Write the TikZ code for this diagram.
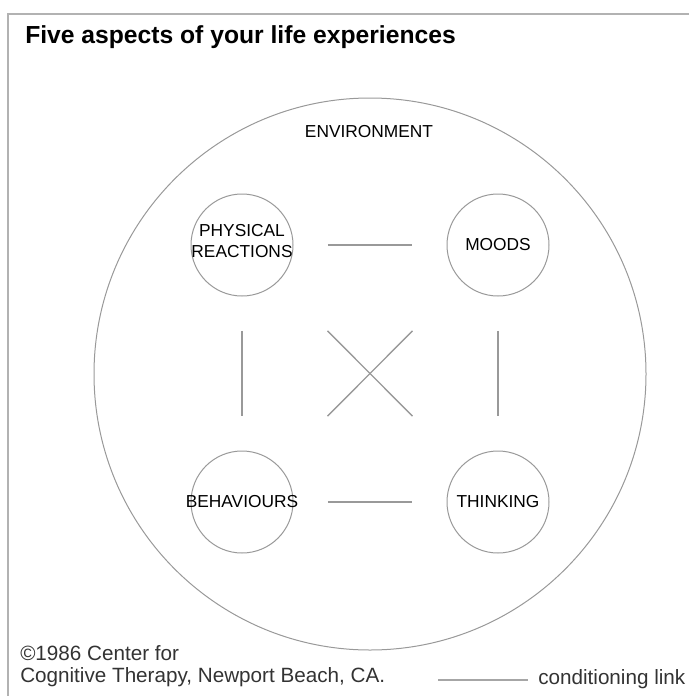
\documentclass[tikz,border=0pt]{standalone}
\usepackage{fontspec}
\setmainfont{Liberation Sans}

\begin{document}
\begin{tikzpicture}[x=0.75pt, y=-0.75pt,
	every node/.style={inner sep=0pt, font=\fontsize{13}{16}\selectfont},
	aspect/.style={draw=black!40, circle, minimum size=76.5pt, line width=0.75pt},
	link/.style={draw=black!40, line width=1pt, shorten <=25.7pt, shorten >=25.7pt},
	cross/.style={draw=black!40, line width=1pt, shorten <=52.3pt, shorten >=52.3pt},
	credit/.style={anchor=base west, text=black!80, font=\fontsize{15.5}{18}\selectfont}]
	
	\useasboundingbox (0,0) rectangle (689,696);
	\draw[black!30, line width=1.5pt] (689,14) -- (8,14) -- (8,696);
	
	\node[anchor=base west, font=\fontsize{18.5}{22}\selectfont\bfseries] (title) at (25,43) {Five aspects of your life experiences};
	
	\node[draw=black!40, circle, minimum size=414pt, line width=0.75pt] (env) at (370,374) {};
	\node[anchor=base] (envtext) at (369,137) {ENVIRONMENT};
	
	\node[aspect, label={[align=center, yshift=3pt]center:PHYSICAL\\REACTIONS}] (phys) at (242,245) {};
	\node[aspect, label=center:MOODS] (moods) at (498,245) {};
	\node[aspect, label=center:BEHAVIOURS] (behav) at (242,502) {};
	\node[aspect, label=center:THINKING] (think) at (498,502) {};
	
	\path (phys) edge[link] (moods);
	\path (behav) edge[link] (think);
	\path (phys) edge[link] (behav);
	\path (moods) edge[link] (think);
	\path (phys) edge[cross] (think);
	\path (moods) edge[cross] (behav);
	
	\node[credit] (credit1) at (20,660) {©1986 Center for};
	\node[credit] (credit2) at (20,682) {Cognitive Therapy, Newport Beach, CA.};
	
	\coordinate (keyA) at (438,680);
	\coordinate (keyB) at (528,680);
	\path (keyA) edge[draw=black!35, line width=1.5pt] (keyB);
	\node[credit] (key) at (538,684) {conditioning link};
	
\end{tikzpicture}
\end{document}
